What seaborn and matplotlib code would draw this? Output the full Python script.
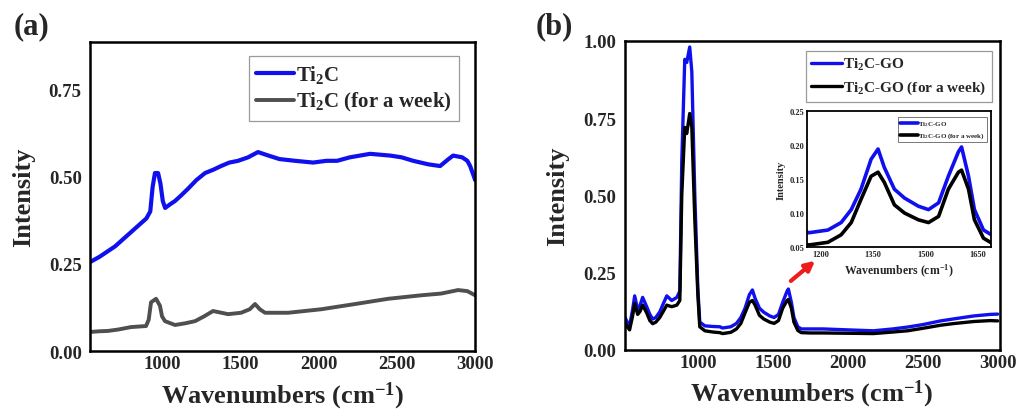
import matplotlib
matplotlib.use("Agg")
import matplotlib.pyplot as plt
import seaborn as sns
import pandas as pd

# ---------------- data ----------------
wn_a = [540, 600, 650, 700, 750, 800, 850, 900, 925, 940, 955, 975, 990, 1005, 1020,
        1050, 1083, 1120, 1166, 1220, 1275, 1330, 1377, 1430, 1486, 1550, 1613, 1680,
        1750, 1850, 1965, 2050, 2118, 2200, 2329, 2457, 2530, 2604, 2700, 2776, 2830,
        2859, 2917, 2950, 2968, 3000]
ti2c = [0.255, 0.27, 0.285, 0.30, 0.32, 0.34, 0.36, 0.38, 0.40, 0.47, 0.51, 0.51, 0.48,
        0.43, 0.41, 0.42, 0.43, 0.445, 0.465, 0.49, 0.51, 0.52, 0.53, 0.54, 0.545, 0.555,
        0.57, 0.56, 0.55, 0.545, 0.54, 0.545, 0.545, 0.555, 0.565, 0.56, 0.555, 0.545,
        0.535, 0.53, 0.55, 0.56, 0.555, 0.545, 0.53, 0.49]

wn_a_week = [540, 600, 655, 720, 802, 898, 915, 930, 962, 987, 1000, 1019, 1083, 1150,
             1211, 1270, 1326, 1380, 1422, 1505, 1560, 1594, 1625, 1658, 1805, 2016, 2233,
             2444, 2655, 2783, 2891, 2950, 3000]
ti2c_week = [0.055, 0.057, 0.058, 0.062, 0.069, 0.072, 0.09, 0.14, 0.15, 0.13, 0.10, 0.086,
             0.075, 0.08, 0.086, 0.10, 0.115, 0.11, 0.106, 0.11, 0.12, 0.135, 0.12, 0.11,
             0.11, 0.12, 0.135, 0.15, 0.16, 0.165, 0.175, 0.172, 0.16]

wn_b = [500, 512, 530, 545, 565, 579, 599, 615, 632, 659, 680, 699, 720, 746, 770, 793,
        826, 860, 880, 893, 913, 926, 946, 960, 980, 1000, 1013, 1047, 1100, 1147, 1165,
        1220, 1258, 1287, 1315, 1344, 1364, 1382, 1411, 1440, 1480, 1509, 1538, 1566,
        1595, 1604, 1624, 1641, 1667, 1690, 1750, 1836, 2000, 2171, 2300, 2398, 2500,
        2619, 2700, 2840, 2950, 3000]
ti2c_go = [0.11, 0.107, 0.09, 0.078, 0.13, 0.175, 0.13, 0.145, 0.17, 0.14, 0.115, 0.10,
           0.105, 0.123, 0.15, 0.175, 0.16, 0.17, 0.19, 0.61, 0.94, 0.93, 0.98, 0.90, 0.50,
           0.20, 0.09, 0.078, 0.076, 0.075, 0.071, 0.075, 0.086, 0.105, 0.135, 0.179,
           0.194, 0.167, 0.135, 0.122, 0.11, 0.105, 0.115, 0.154, 0.19, 0.197, 0.154,
           0.105, 0.075, 0.068, 0.068, 0.068, 0.065, 0.062, 0.068, 0.074, 0.082, 0.094,
           0.10, 0.11, 0.115, 0.116]
ti2c_go_week = [0.095, 0.09, 0.075, 0.065, 0.11, 0.15, 0.115, 0.125, 0.145, 0.12, 0.095,
                0.085, 0.09, 0.105, 0.125, 0.145, 0.14, 0.145, 0.16, 0.50, 0.72, 0.70,
                0.765, 0.72, 0.42, 0.18, 0.075, 0.062, 0.058, 0.056, 0.053, 0.057, 0.068,
                0.086, 0.12, 0.154, 0.16, 0.145, 0.112, 0.10, 0.09, 0.086, 0.095, 0.135,
                0.16, 0.163, 0.135, 0.09, 0.063, 0.056, 0.055, 0.055, 0.054, 0.053, 0.058,
                0.062, 0.07, 0.08, 0.085, 0.092, 0.095, 0.094]

xticks_main = [1000, 1500, 2000, 2500, 3000]
yticks_a = [0.00, 0.25, 0.50, 0.75]
yticks_b = [0.00, 0.25, 0.50, 0.75, 1.00]
xticks_in = [1200, 1350, 1500, 1650]
yticks_in = [0.05, 0.10, 0.15, 0.20, 0.25]

# ---------------- style ----------------
sns.set_style("white")
plt.rcParams["font.family"] = ["Liberation Serif", "DejaVu Serif"]
plt.rcParams["font.weight"] = "bold"
plt.rcParams["mathtext.fontset"] = "custom"
plt.rcParams["mathtext.rm"] = "Liberation Serif:bold"
plt.rcParams["mathtext.bf"] = "Liberation Serif:bold"
plt.rcParams["mathtext.it"] = "Liberation Serif:italic:bold"
plt.rcParams["mathtext.default"] = "rm"

BLUE = "#1010ee"
GRAY = "#4f4f4f"
BLACK = "#000000"

fig = plt.figure(figsize=(10.19, 4.10), dpi=100)
ax_a = fig.add_axes([0.0883, 0.141, 0.378, 0.754])
ax_b = fig.add_axes([0.613, 0.144, 0.368, 0.754])
ax_in = fig.add_axes([0.792, 0.395, 0.181, 0.332])

df_a1 = pd.DataFrame({"x": wn_a, "y": ti2c})
df_a2 = pd.DataFrame({"x": wn_a_week, "y": ti2c_week})
df_b = pd.DataFrame({"x": wn_b, "y1": ti2c_go, "y2": ti2c_go_week})

sns.lineplot(data=df_a1, x="x", y="y", ax=ax_a, color=BLUE, lw=3.0, label=r"Ti$_2$C")
sns.lineplot(data=df_a2, x="x", y="y", ax=ax_a, color=GRAY, lw=2.8, label=r"Ti$_2$C (for a week)")

sns.lineplot(data=df_b, x="x", y="y1", ax=ax_b, color=BLUE, lw=2.4, label=r"Ti$_2$C-GO")
sns.lineplot(data=df_b, x="x", y="y2", ax=ax_b, color=BLACK, lw=2.4, label=r"Ti$_2$C-GO (for a week)")

sns.lineplot(data=df_b, x="x", y="y1", ax=ax_in, color=BLUE, lw=2.6, label=r"Ti$_2$C-GO")
sns.lineplot(data=df_b, x="x", y="y2", ax=ax_in, color=BLACK, lw=2.6, label=r"Ti$_2$C-GO (for a week)")

def style_main(ax, xlim, ylim, yticks):
    ax.set_xlim(*xlim)
    ax.set_ylim(*ylim)
    ax.set_xticks(xticks_main)
    ax.set_yticks(yticks)
    ax.set_yticklabels([f"{v:.2f}" for v in yticks])
    ax.tick_params(axis="both", length=0, labelsize=13.5)
    ax.tick_params(axis="x", pad=3)
    ax.tick_params(axis="y", pad=6)
    for lab in ax.get_xticklabels() + ax.get_yticklabels():
        lab.set_fontweight("bold")
    ax.set_xlabel(r"Wavenumbers (cm$^{-1}$)", fontsize=19, fontweight="bold", labelpad=5)
    ax.set_ylabel("Intensity", fontsize=19, fontweight="bold", labelpad=10)
    for s in ax.spines.values():
        s.set_linewidth(1.8)
        s.set_color("black")

style_main(ax_a, (540, 3000), (0, 0.885), yticks_a)
style_main(ax_b, (512, 3013), (0, 1.0), yticks_b)

leg_a = ax_a.legend(loc="upper right", bbox_to_anchor=(0.958, 0.955), borderaxespad=0,
                    fontsize=15, handlelength=1.8, handletextpad=0.1, fancybox=False,
                    framealpha=1, edgecolor="#9a9a9a", borderpad=0.35, labelspacing=0.25)
leg_a.get_frame().set_linewidth(0.9)
leg_b = ax_b.legend(loc="upper right", bbox_to_anchor=(0.979, 0.968), borderaxespad=0,
                    fontsize=11, handlelength=2.0, handletextpad=0.1, fancybox=False,
                    framealpha=1, edgecolor="#9a9a9a", borderpad=0.35, labelspacing=0.45)
leg_b.get_frame().set_linewidth(0.9)

# inset
ax_in.set_xlim(1160, 1690)
ax_in.set_ylim(0.05, 0.25)
ax_in.set_xticks(xticks_in)
ax_in.set_yticks(yticks_in)
ax_in.set_yticklabels([f"{v:.2f}" for v in yticks_in])
ax_in.tick_params(axis="both", length=0, labelsize=6, pad=2)
for lab in ax_in.get_xticklabels() + ax_in.get_yticklabels():
    lab.set_fontweight("bold")
ax_in.set_xlabel(r"Wavenumbers (cm$^{-1}$)", fontsize=8.5, fontweight="bold", labelpad=3)
ax_in.set_ylabel("Intensity", fontsize=7.5, fontweight="bold", labelpad=3)
for s in ax_in.spines.values():
    s.set_linewidth(1.3)
    s.set_color("black")
leg_in = ax_in.legend(loc="upper right", bbox_to_anchor=(0.978, 0.956), borderaxespad=0,
                      fontsize=5, handlelength=2.6, handletextpad=0.1, fancybox=False,
                      framealpha=1, edgecolor="#777777", borderpad=0.3, labelspacing=0.4)
leg_in.get_frame().set_linewidth(0.7)

# red arrow pointing to inset
fig.add_artist(matplotlib.patches.FancyArrowPatch(
    (0.774, 0.308), (0.802, 0.366), transform=fig.transFigure,
    arrowstyle="-|>", mutation_scale=14, color="#ee1c1c", lw=3))

fig.text(0.031, 0.935, "(a)", fontsize=22, fontweight="bold", ha="center", va="center")
fig.text(0.544, 0.935, "(b)", fontsize=22, fontweight="bold", ha="center", va="center")

fig.savefig("out.png", dpi=100)
